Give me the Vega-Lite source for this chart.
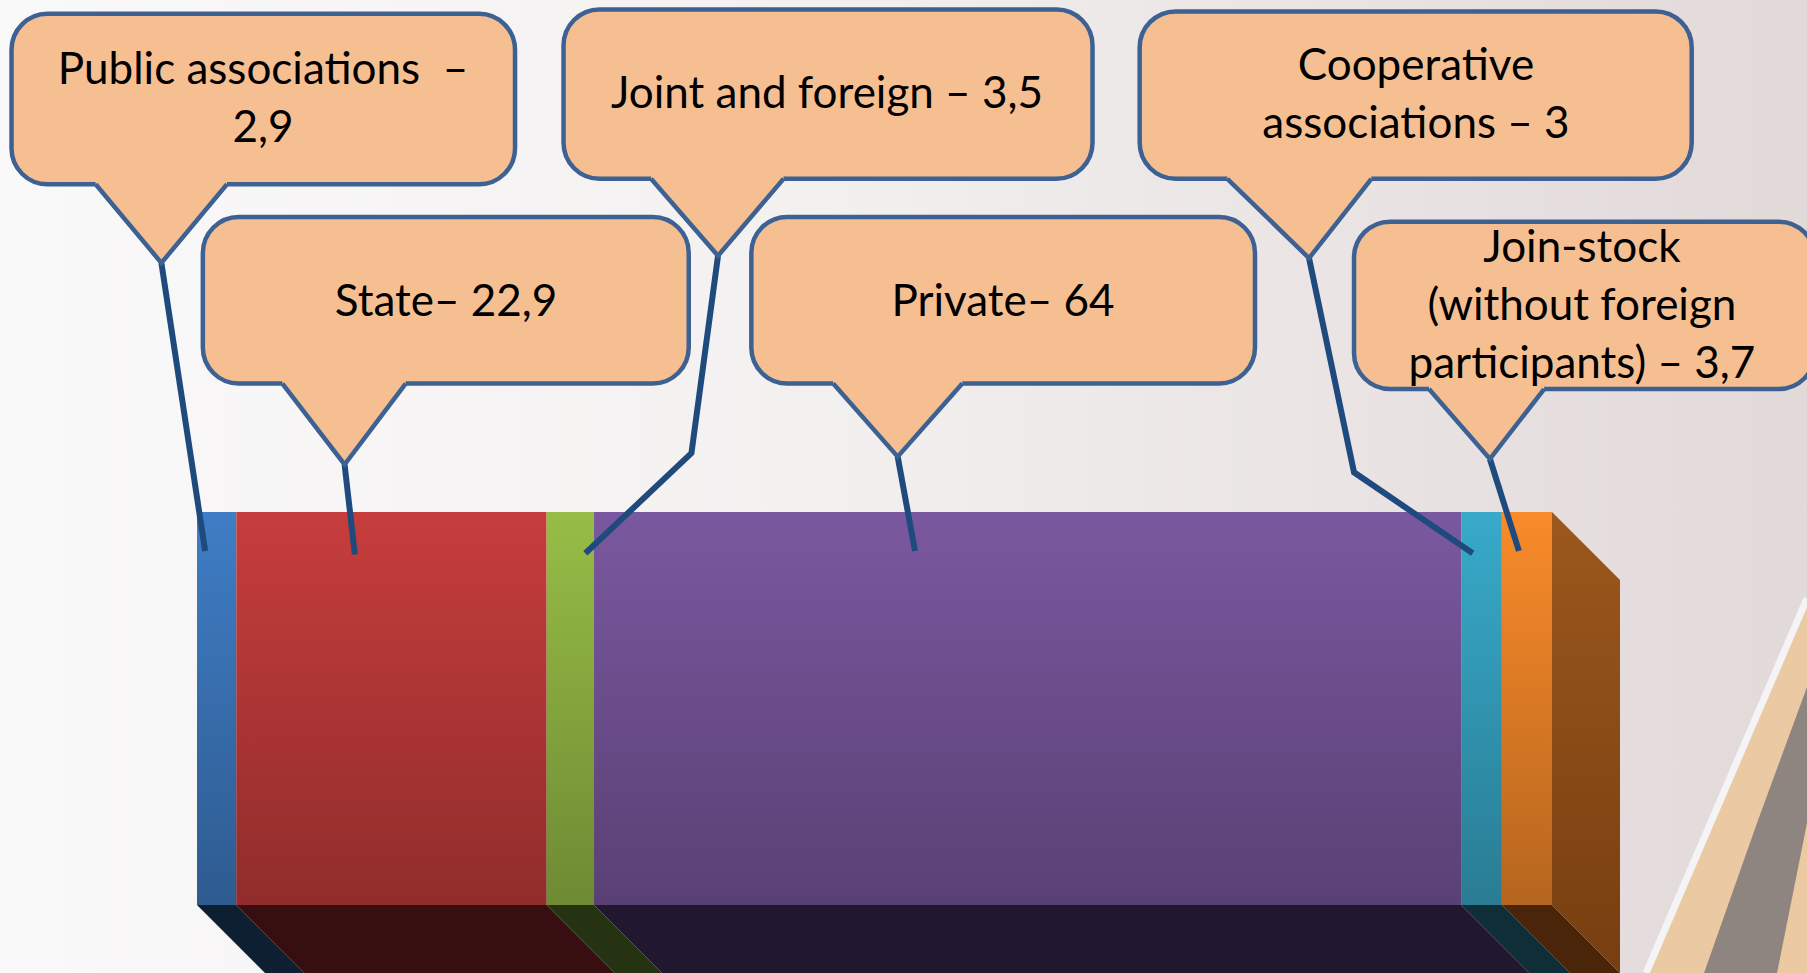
{
  "$schema": "https://vega.github.io/schema/vega-lite/v6.json",
  "width": 1807,
  "height": 973,
  "autosize": {"type": "none"},
  "padding": 0,
  "background": "#F4F1F1",
  "config": {"view": {"stroke": null}},
  "datasets": {
    "segments": [
      {"seg": "Public associations", "value": 2.9, "idx": 1},
      {"seg": "State", "value": 22.9, "idx": 2},
      {"seg": "Joint and foreign", "value": 3.5, "idx": 3},
      {"seg": "Private", "value": 64, "idx": 4},
      {"seg": "Cooperative associations", "value": 3, "idx": 5},
      {"seg": "Join-stock", "value": 3.7, "idx": 6}
    ],
    "bottomFaces": [
      {"seg": "Public associations", "y": 0, "a": 0, "b": 2.9},
      {"seg": "Public associations", "y": -1.73, "a": 5.02, "b": 7.92},
      {"seg": "State", "y": 0, "a": 2.9, "b": 25.8},
      {"seg": "State", "y": -1.73, "a": 7.92, "b": 30.82},
      {"seg": "Joint and foreign", "y": 0, "a": 25.8, "b": 29.3},
      {"seg": "Joint and foreign", "y": -1.73, "a": 30.82, "b": 34.32},
      {"seg": "Private", "y": 0, "a": 29.3, "b": 93.3},
      {"seg": "Private", "y": -1.73, "a": 34.32, "b": 98.32},
      {"seg": "Cooperative associations", "y": 0, "a": 93.3, "b": 96.3},
      {"seg": "Cooperative associations", "y": -1.73, "a": 98.32, "b": 101.32},
      {"seg": "Join-stock", "y": 0, "a": 96.3, "b": 100},
      {"seg": "Join-stock", "y": -1.73, "a": 101.32, "b": 105.02}
    ],
    "sideFace": [
      {"x": 100, "y": 0, "y2": 10},
      {"x": 105.02, "y": -1.73, "y2": 8.27}
    ],
    "stripeBeige": [
      {"y": -1.73, "a": 107.2, "b": 118.82},
      {"y": 7.70, "a": 118.82, "b": 118.82}
    ],
    "stripeGray": [
      {"y": -1.73, "a": 111.22, "b": 116.61},
      {"y": 2.087, "a": 115.13, "b": 118.82},
      {"y": 5.547, "a": 118.82, "b": 118.82}
    ],
    "stripeWhite": [
      {"k": 1, "x": 106.95, "y": -1.73},
      {"k": 2, "x": 118.82, "y": 7.80}
    ],
    "boxes": [
      {"id": 1, "x1": -13.69, "x2": 23.47, "y1": 18.34, "y2": 22.68},
      {"id": 2, "x1": 0.43, "x2": 36.29, "y1": 13.27, "y2": 17.51},
      {"id": 3, "x1": 27.05, "x2": 66.09, "y1": 18.48, "y2": 22.79},
      {"id": 4, "x1": 40.91, "x2": 78.08, "y1": 13.27, "y2": 17.51},
      {"id": 5, "x1": 69.57, "x2": 110.31, "y1": 18.48, "y2": 22.74},
      {"id": 6, "x1": 85.39, "x2": 119.4, "y1": 13.13, "y2": 17.39}
    ],
    "pointers": [
      {"id": 1, "k": 1, "x": -7.48, "y": 18.34, "top": 18.46},
      {"id": 1, "k": 2, "x": -2.63, "y": 16.34, "top": 18.46},
      {"id": 1, "k": 3, "x": 2.21, "y": 18.34, "top": 18.46},
      {"id": 2, "k": 1, "x": 6.30, "y": 13.27, "top": 13.39},
      {"id": 2, "k": 2, "x": 10.89, "y": 11.21, "top": 13.39},
      {"id": 2, "k": 3, "x": 15.40, "y": 13.27, "top": 13.39},
      {"id": 3, "k": 1, "x": 33.51, "y": 18.48, "top": 18.60},
      {"id": 3, "k": 2, "x": 38.45, "y": 16.52, "top": 18.60},
      {"id": 3, "k": 3, "x": 43.29, "y": 18.48, "top": 18.60},
      {"id": 4, "k": 1, "x": 46.95, "y": 13.27, "top": 13.39},
      {"id": 4, "k": 2, "x": 51.71, "y": 11.41, "top": 13.39},
      {"id": 4, "k": 3, "x": 56.48, "y": 13.27, "top": 13.39},
      {"id": 5, "k": 1, "x": 76.04, "y": 18.48, "top": 18.60},
      {"id": 5, "k": 2, "x": 82.07, "y": 16.46, "top": 18.60},
      {"id": 5, "k": 3, "x": 86.67, "y": 18.48, "top": 18.60},
      {"id": 6, "k": 1, "x": 90.92, "y": 13.13, "top": 13.25},
      {"id": 6, "k": 2, "x": 95.42, "y": 11.35, "top": 13.25},
      {"id": 6, "k": 3, "x": 99.42, "y": 13.13, "top": 13.25}
    ],
    "leaders": [
      {"id": 1, "k": 1, "x": -2.63, "y": 16.34},
      {"id": 1, "k": 2, "x": 0.60, "y": 9.01},
      {"id": 2, "k": 1, "x": 10.89, "y": 11.21},
      {"id": 2, "k": 2, "x": 11.65, "y": 8.92},
      {"id": 3, "k": 1, "x": 38.45, "y": 16.52},
      {"id": 3, "k": 2, "x": 36.49, "y": 11.50},
      {"id": 3, "k": 3, "x": 28.66, "y": 8.95},
      {"id": 4, "k": 1, "x": 51.71, "y": 11.41},
      {"id": 4, "k": 2, "x": 52.99, "y": 9.01},
      {"id": 5, "k": 1, "x": 82.07, "y": 16.46},
      {"id": 5, "k": 2, "x": 85.39, "y": 11.01},
      {"id": 5, "k": 3, "x": 94.15, "y": 8.95},
      {"id": 6, "k": 1, "x": 95.42, "y": 11.35},
      {"id": 6, "k": 2, "x": 97.56, "y": 9.01}
    ],
    "labels": [
      {"id": 1, "label": "Public associations\u00a0 –\n2,9", "x": 4.87, "y": 21.22},
      {"id": 2, "label": "State– 22,9", "x": 18.38, "y": 15.32},
      {"id": 3, "label": "Joint and foreign – 3,5", "x": 46.49, "y": 20.62},
      {"id": 4, "label": "Private– 64", "x": 59.48, "y": 15.32},
      {"id": 5, "label": "Cooperative\nassociations – 3", "x": 89.96, "y": 21.32},
      {"id": 6, "label": "Join-stock\n(without foreign\nparticipants) – 3,7", "x": 102.21, "y": 16.69}
    ]
  },
  "resolve": {"scale": {"color": "independent"}},
  "layer": [
    {
      "data": {"values": [{}]},
      "mark": {
        "type": "rect",
        "color": {"gradient": "linear", "x1": 0, "y1": 0, "x2": 1, "y2": 0,
          "stops": [
            {"offset": 0, "color": "#FAF9F9"},
            {"offset": 0.45, "color": "#F3F0F0"},
            {"offset": 1, "color": "#E2D9D9"}
          ]}
      },
      "encoding": {
        "x": {"datum": -14.54, "type": "quantitative", "scale": {"domain": [-14.54, 118.82], "nice": false, "zero": false}, "axis": null},
        "x2": {"datum": 118.82},
        "y": {"datum": -1.73, "type": "quantitative", "scale": {"domain": [-1.73, 23.03], "nice": false, "zero": false}, "axis": null},
        "y2": {"datum": 23.03}
      }
    },
    {
      "data": {"name": "stripeBeige"},
      "mark": {"type": "area", "orient": "horizontal", "color": "#EBC9A2"},
      "encoding": {
        "y": {"field": "y", "type": "quantitative", "axis": null},
        "x": {"field": "a", "type": "quantitative", "stack": null, "axis": null},
        "x2": {"field": "b"}
      }
    },
    {
      "data": {"name": "stripeGray"},
      "mark": {"type": "area", "orient": "horizontal", "color": "#8E8580"},
      "encoding": {
        "y": {"field": "y", "type": "quantitative", "axis": null},
        "x": {"field": "a", "type": "quantitative", "stack": null, "axis": null},
        "x2": {"field": "b"}
      }
    },
    {
      "data": {"name": "stripeWhite"},
      "mark": {"type": "line", "color": "#F4F4F7", "strokeWidth": 7},
      "encoding": {
        "x": {"field": "x", "type": "quantitative", "axis": null},
        "y": {"field": "y", "type": "quantitative", "axis": null},
        "order": {"field": "k"}
      }
    },
    {
      "data": {"name": "bottomFaces"},
      "mark": {"type": "area", "orient": "horizontal"},
      "encoding": {
        "y": {"field": "y", "type": "quantitative", "axis": null},
        "x": {"field": "a", "type": "quantitative", "stack": null, "axis": null},
        "x2": {"field": "b"},
        "color": {"field": "seg", "type": "nominal", "legend": null,
          "scale": {"domain": ["Public associations", "State", "Joint and foreign", "Private", "Cooperative associations", "Join-stock"],
                    "range": ["#0F1F32", "#380F10", "#263313", "#21172E", "#0F2E37", "#4B2509"]}}
      }
    },
    {
      "data": {"name": "sideFace"},
      "mark": {"type": "area", "orient": "vertical",
        "color": {"gradient": "linear", "x1": 0, "y1": 0, "x2": 0, "y2": 1,
          "stops": [{"offset": 0, "color": "#9C581D"}, {"offset": 1, "color": "#773E10"}]}},
      "encoding": {
        "x": {"field": "x", "type": "quantitative", "axis": null},
        "y": {"field": "y", "type": "quantitative", "stack": null, "axis": null},
        "y2": {"field": "y2"}
      }
    },
    {
      "data": {"name": "segments"},
      "transform": [
        {"stack": "value", "groupby": [], "sort": [{"field": "idx", "order": "ascending"}], "as": ["x0", "x1"]}
      ],
      "mark": {"type": "rect"},
      "encoding": {
        "x": {"field": "x0", "type": "quantitative", "axis": null},
        "x2": {"field": "x1"},
        "y": {"datum": 0, "type": "quantitative", "axis": null},
        "y2": {"datum": 10},
        "color": {"field": "seg", "type": "nominal", "legend": null,
          "scale": {"domain": ["Public associations", "State", "Joint and foreign", "Private", "Cooperative associations", "Join-stock"],
                    "range": ["#3F7DC5", "#C63D3C", "#97BD46", "#7A589F", "#38AACA", "#F98B2A"]}}
      }
    },
    {
      "data": {"values": [{}]},
      "mark": {
        "type": "rect",
        "color": {"gradient": "linear", "x1": 0, "y1": 0, "x2": 0, "y2": 1,
          "stops": [
            {"offset": 0, "color": "rgba(0,0,0,0)"},
            {"offset": 1, "color": "rgba(0,0,0,0.27)"}
          ]}
      },
      "encoding": {
        "x": {"datum": 0, "type": "quantitative", "axis": null},
        "x2": {"datum": 100},
        "y": {"datum": 0, "type": "quantitative", "axis": null},
        "y2": {"datum": 10}
      }
    },
    {
      "data": {"name": "leaders"},
      "mark": {"type": "line", "color": "#1F4A7E", "strokeWidth": 6, "strokeCap": "butt", "strokeJoin": "miter"},
      "encoding": {
        "x": {"field": "x", "type": "quantitative", "axis": null},
        "y": {"field": "y", "type": "quantitative", "axis": null},
        "detail": {"field": "id", "type": "nominal"},
        "order": {"field": "k"}
      }
    },
    {
      "data": {"name": "boxes"},
      "mark": {"type": "rect", "cornerRadius": 36, "fill": "#F5BF92", "stroke": "#3D6193", "strokeWidth": 4.5},
      "encoding": {
        "x": {"field": "x1", "type": "quantitative", "axis": null},
        "x2": {"field": "x2"},
        "y": {"field": "y1", "type": "quantitative", "axis": null},
        "y2": {"field": "y2"}
      }
    },
    {
      "data": {"name": "pointers"},
      "mark": {"type": "area", "orient": "vertical", "color": "#F5BF92"},
      "encoding": {
        "x": {"field": "x", "type": "quantitative", "axis": null},
        "y": {"field": "y", "type": "quantitative", "stack": null, "axis": null},
        "y2": {"field": "top"},
        "detail": {"field": "id", "type": "nominal"}
      }
    },
    {
      "data": {"name": "pointers"},
      "mark": {"type": "line", "color": "#3D6193", "strokeWidth": 4.5, "strokeJoin": "miter"},
      "encoding": {
        "x": {"field": "x", "type": "quantitative", "axis": null},
        "y": {"field": "y", "type": "quantitative", "axis": null},
        "detail": {"field": "id", "type": "nominal"},
        "order": {"field": "k"}
      }
    },
    {
      "data": {"name": "labels"},
      "mark": {"type": "text", "font": "Lato", "fontSize": 44, "color": "#000000", "align": "center", "baseline": "middle", "lineBreak": "\n", "lineHeight": 58},
      "encoding": {
        "x": {"field": "x", "type": "quantitative", "axis": null},
        "y": {"field": "y", "type": "quantitative", "axis": null},
        "text": {"field": "label", "type": "nominal"}
      }
    }
  ]
}
